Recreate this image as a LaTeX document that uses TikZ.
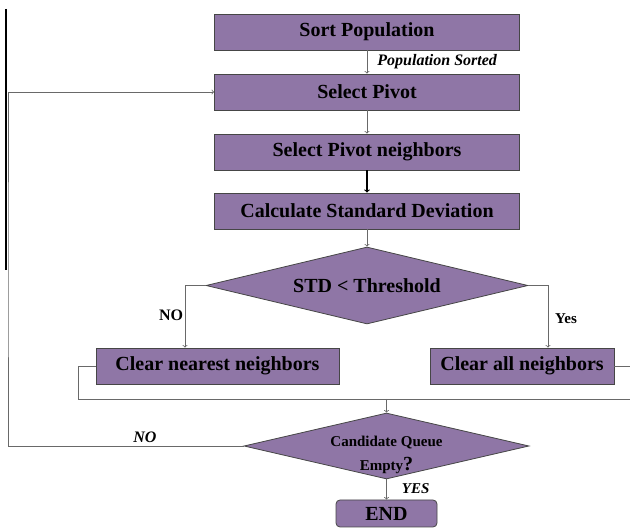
\documentclass[tikz,border=0pt]{standalone}
\usepackage{fontspec}
\setmainfont{Liberation Serif}
\usetikzlibrary{shapes.geometric}
\definecolor{violetbloc}{RGB}{143,118,166}
\definecolor{grisbord}{RGB}{70,70,70}
\definecolor{grislien}{RGB}{105,105,105}
\newcommand{\hb}{36pt}
\tikzstyle{boite}=[draw=grisbord, fill=violetbloc, line width=0.8pt, minimum height=\hb, inner sep=0, font=\fontsize{20}{22}\selectfont\bfseries]
\tikzstyle{losange}=[diamond, draw=grisbord, fill=violetbloc, line width=0.8pt, inner sep=0, font=\fontsize{20}{22}\selectfont\bfseries]
\tikzstyle{lien}=[grislien, line width=0.8pt]
\tikzstyle{fleche}=[lien, ->]
\tikzstyle{etiq}=[inner sep=0, text=black, font=\fontsize{16}{18}\selectfont\bfseries]
\begin{document}
\begin{tikzpicture}[x=1pt,y=-1pt]
\useasboundingbox (0,0) rectangle (630,529);

%boites
\node[boite, minimum width=305pt] (tri) at (367,32) {Sort Population};
\node[boite, minimum width=305pt] (pivot) at (367,92) {Select Pivot};
\node[boite, minimum width=305pt] (voisins) at (367,152) {Select Pivot neighbors};
\node[boite, minimum width=305pt] (ecart) at (367,211) {Calculate Standard Deviation};
\node[losange, aspect=4.2, minimum width=322pt, minimum height=77pt] (seuil) at (367,285.5) {STD < Threshold};
\node[boite, minimum width=243pt] (proches) at (217.5,366) {Clear nearest neighbors};
\node[boite, minimum width=184pt] (tous) at (522,366) {Clear all neighbors};
\node[losange, aspect=4.3, minimum width=285pt, minimum height=66pt, font=\fontsize{15}{24}\selectfont\bfseries] (file) at (386.5,446)
  {\raisebox{-11pt}[0pt][0pt]{\begin{tabular}{@{}c@{}}Candidate Queue\\Empty{\fontsize{20}{22}\selectfont ?}\end{tabular}}};
\node[boite, minimum width=101pt, minimum height=27pt, rounded corners=4pt] (fin) at (386.5,513.5) {END};

\coordinate (busG) at (78,399);
\coordinate (busD) at (645,399);
\coordinate (bus) at (386.5,399);
\coordinate (boucle) at (8,270);

%liens
\draw[fleche] (tri) -- (pivot) node[etiq, font=\fontsize{16}{18}\selectfont\bfseries\itshape, anchor=west, pos=0.5, xshift=10pt] {Population Sorted};
\draw[fleche] (pivot) -- (voisins);
\draw[fleche, black, line width=1.1pt] (voisins) -- (ecart);
\draw[fleche] (ecart) -- (seuil);

\draw[fleche] (seuil.west) -| ([xshift=-32.5pt]proches.north);
\node[etiq] (non) at (171,315) {NO};
\draw[fleche] (seuil.east) -| ([xshift=26pt]tous.north);
\node[etiq, font=\fontsize{15}{18}\selectfont\bfseries] (oui) at (566,319) {Yes};

\draw[lien] (proches.west) -| (busG) -- (busD) |- (tous.east);
\draw[fleche] (bus) -- (file.north);

\draw[fleche] (file.west) -| (boucle) |- (pivot.west);
\node[etiq, font=\fontsize{16}{18}\selectfont\bfseries\itshape] (non2) at (145,437) {NO};
\draw[fleche] (file.south) -- (fin.north) node[etiq, font=\fontsize{15}{18}\selectfont\bfseries\itshape, pos=0.45, anchor=west, xshift=15pt] {YES};

%bord
\draw[black, line width=1.2pt] (6,9) -- (6,270);
\end{tikzpicture}
\end{document}
